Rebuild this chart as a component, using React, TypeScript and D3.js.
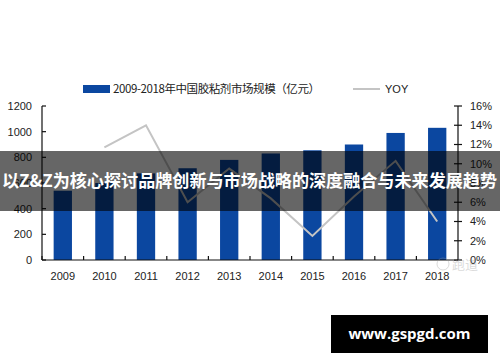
import * as d3 from "d3";

const years = ["2009", "2010", "2011", "2012", "2013", "2014", "2015", "2016", "2017", "2018"];
const marketSize = [540, 600, 675, 715, 780, 830, 855, 900, 990, 1030];
const yoy = [null, 0.117, 0.14, 0.06, 0.095, 0.064, 0.025, 0.066, 0.103, 0.04];
const leftTicks = [0, 200, 400, 600, 800, 1000, 1200];
const rightTicks = [0, 0.02, 0.04, 0.06, 0.08, 0.1, 0.12, 0.14, 0.16];

const barLabel = "2009-2018年中国胶粘剂市场规模（亿元）";
const lineLabel = "YOY";
const bannerText = "以Z&Z为核心探讨品牌创新与市场战略的深度融合与未来发展趋势";
const siteText = "www.gspgd.com";

const W = 500;
const H = 362;
const dims = { left: 42, right: 458, top: 106, bottom: 260 };

const App = () => {
  const xScale = d3.scaleBand().domain(years).range([dims.left, dims.right]).paddingInner(0.56).paddingOuter(0.28);
  const yLeft = d3.scaleLinear().domain([0, 1200]).range([dims.bottom, dims.top]);
  const yRight = d3.scaleLinear().domain([0, 0.16]).range([dims.bottom, dims.top]);
  const step = xScale.step();

  const lineGen = d3
    .line<number | null>()
    .defined((d) => d !== null)
    .x((d, i) => (xScale(years[i]) as number) + xScale.bandwidth() / 2)
    .y((d) => yRight(d as number));

  const axisFont = "'Liberation Sans', Arial, sans-serif";

  return (
    <svg width={W} height={H} style={{ position: "absolute", left: 0, top: 0, background: "#fff" }}>
      {/* legend */}
      <g>
        <rect x={83} y={85} width={27} height={8} fill="#0b47a0" />
        <text x={113} y={93} fontSize={11.5} fill="#222" fontFamily="'Noto Sans CJK SC', sans-serif" textLength={207} lengthAdjust="spacing">
          {barLabel}
        </text>
        <line x1={353} x2={380} y1={89} y2={89} stroke="#c4c4c4" strokeWidth={2} />
        <text x={385} y={93} fontSize={11} fill="#222" fontFamily={axisFont}>
          {lineLabel}
        </text>
      </g>

      {/* bars */}
      {years.map((y, i) => (
        <rect
          key={y}
          x={xScale(y)}
          y={yLeft(marketSize[i])}
          width={xScale.bandwidth()}
          height={dims.bottom - yLeft(marketSize[i])}
          fill="#0b47a0"
        />
      ))}

      {/* yoy line */}
      <path d={lineGen(yoy) || ""} fill="none" stroke="#c4c4c4" strokeWidth={2} />

      {/* left axis */}
      <g stroke="#111" strokeWidth={1.2}>
        <line x1={dims.left} x2={dims.left} y1={dims.top} y2={dims.bottom} />
        {leftTicks.map((t) => (
          <line key={t} x1={dims.left} x2={dims.left + 4} y1={yLeft(t)} y2={yLeft(t)} />
        ))}
      </g>
      {leftTicks.map((t) => (
        <text key={t} x={32} y={yLeft(t)} dy="0.35em" textAnchor="end" fontSize={11} fill="#222" fontFamily={axisFont}>
          {t}
        </text>
      ))}

      {/* right axis */}
      <g stroke="#111" strokeWidth={1.2}>
        <line x1={dims.right} x2={dims.right} y1={dims.top} y2={dims.bottom} />
        {rightTicks.map((t) => (
          <line key={t} x1={dims.right - 4} x2={dims.right + 4} y1={yRight(t)} y2={yRight(t)} />
        ))}
      </g>
      {rightTicks.map((t) => (
        <text key={t} x={470} y={yRight(t)} dy="0.35em" fontSize={11} fill="#222" fontFamily={axisFont}>
          {d3.format(".0%")(t)}
        </text>
      ))}

      {/* x axis */}
      <g stroke="#111" strokeWidth={1.2}>
        <line x1={dims.left} x2={dims.right} y1={dims.bottom} y2={dims.bottom} />
        {years.map((y, i) => {
          const xb = dims.left + step * i;
          return <line key={y} x1={xb} x2={xb} y1={dims.bottom} y2={dims.bottom - 4} />;
        })}
      </g>
      {years.map((y) => (
        <text
          key={y}
          x={(xScale(y) as number) + xScale.bandwidth() / 2}
          y={276}
          dy="0.35em"
          textAnchor="middle"
          fontSize={11}
          fill="#222"
          fontFamily={axisFont}
        >
          {y}
        </text>
      ))}

      {/* faint watermark */}
      <g opacity={0.35}>
        <circle cx={443} cy={264} r={6} fill="none" stroke="#999" strokeWidth={1} />
        <text x={452} y={269} fontSize={13} fill="#999" fontFamily="'Noto Sans CJK SC', sans-serif">
          跑道
        </text>
      </g>

      {/* banner overlay */}
      <rect x={0} y={151} width={W} height={60} fill="rgba(0,0,0,0.6)" />
      <text
        x={2}
        y={181}
        dy="0.36em"
        fontSize={17.5}
        fontWeight="bold"
        fill="#fff"
        fontFamily="'Noto Sans CJK SC', sans-serif"
        textLength={495}
        lengthAdjust="spacingAndGlyphs"
      >
        {bannerText}
      </text>

      {/* site label */}
      <rect x={331} y={315} width={157} height={38} fill="#000" />
      <text x={409.5} y={334} dy="0.35em" textAnchor="middle" fontSize={15} fontWeight="bold" fill="#fff" fontFamily="'Open Sans', sans-serif">
        {siteText}
      </text>
    </svg>
  );
};

export default App;
